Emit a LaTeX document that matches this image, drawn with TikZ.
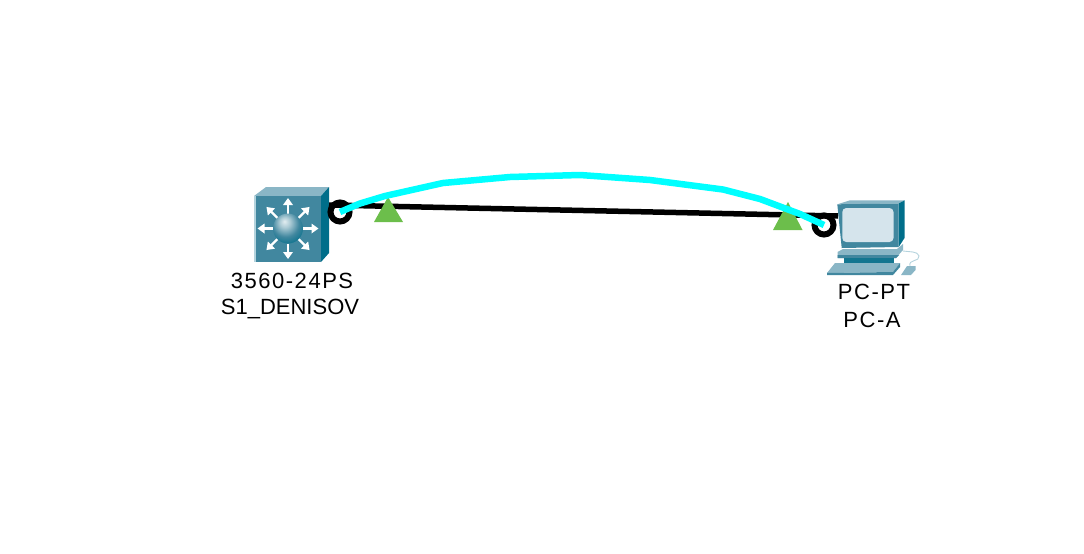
\documentclass[tikz,border=0pt]{standalone}
\usepackage{fontspec}
\setmainfont{Liberation Sans}
\newfontfamily\spaced[LetterSpace=7]{Liberation Sans}
\usetikzlibrary{arrows.meta}
\definecolor{fronta}{HTML}{41879F}
\definecolor{topa}{HTML}{8AB6C6}
\definecolor{sidea}{HTML}{006E8A}
\definecolor{screena}{HTML}{D5E4EC}
\definecolor{edgea}{HTML}{B4D3DD}
\definecolor{linka}{HTML}{00FFFF}
\definecolor{tria}{HTML}{6CBE4B}
\pgfdeclareradialshading{ballshade}{\pgfpoint{-6bp}{12bp}}{
  color(0bp)=(white!85!fronta);
  color(9bp)=(white!55!fronta);
  color(22bp)=(fronta);
  color(36bp)=(sidea);
  color(70bp)=(sidea!75!black)}
\tikzset{
  devlabel/.style={font=\fontsize{22}{26}\selectfont,align=center,text=black,inner sep=0pt},
  linkring/.style={circle,draw=black,line width=6pt,minimum size=19pt,inner sep=0pt},
  linktri/.style={fill=tria,draw=none},
  cable/.style={line width=5.5pt,draw=black},
  fibre/.style={line width=6.5pt,draw=linka,line join=round},
  rayarrow/.style={draw=white,line width=2.4pt,-{Triangle[length=7pt,width=9.5pt]}},
  holder/.style={inner sep=0pt,draw=none}
}
\begin{document}
\begin{tikzpicture}[x=1pt,y=-1pt]
\useasboundingbox (0,0) rectangle (1084,554);
% switch
\fill[topa] (254,196) -- (266,187) -- (329,187) -- (321,196) -- cycle;
\fill[sidea] (321,196) -- (329,187) -- (329,253) -- (321,262) -- cycle;
\fill[fronta] (254,196) rectangle (321,262);
\fill[edgea] (254,196) rectangle (256,262);
\foreach \a in {0,45,...,315}{
  \draw[rayarrow] (288,228.5) ++(\a:15) -- ++(\a:15.5);
}
\shade[shading=ballshade] (288,228.5) circle (15);
\node[holder,minimum width=67pt,minimum height=66pt] (sw) at (287.5,229) {};
\coordinate (swport) at (329,205);
% PC
\fill[topa] (837.3,204.3) -- (850,200.3) -- (904.5,200.3) -- (898.7,203.5) -- cycle;
\fill[sidea] (898.7,203.5) -- (904.5,200.3) -- (904.5,238) -- (898.7,247) -- cycle;
\fill[fronta] (837.3,204.3) -- (898.7,203.5) -- (898.7,247) -- (841.7,248) -- cycle;
\fill[screena,rounded corners=4pt] (842.3,208) rectangle (893.5,242);
\fill[topa] (837.5,252) -- (843,249) -- (897,249) -- (903,244) -- (903,250) -- (896,258) -- (837.5,258) -- cycle;
\fill[fronta] (837.5,255) -- (899,255) -- (896,258) -- (837.5,258) -- cycle;
\fill[sidea!70!fronta] (844,258) rectangle (894,263);
\fill[topa] (835,263) -- (900,263) -- (893,272) -- (827,273) -- cycle;
\fill[fronta] (827,273) -- (893,272) -- (900,263) -- (900,267) -- (893,275) -- (827,275) -- cycle;
\fill[topa] (907,266) -- (915.5,266) -- (915.5,270) -- (911,275) -- (901,275) -- cycle;
\draw[edgea,line width=0.9pt] (910,266) .. controls (908,259) and (920,262) .. (919,256) .. controls (918,251) and (909,252) .. (903,251);
\node[holder,minimum width=78pt,minimum height=76pt] (pc) at (870,238) {};
\coordinate (pcport) at (838,216);
% link
\draw[cable] (swport) -- (pcport);
\node[linkring] (r1) at (340,212) {};
\node[linkring] (r2) at (824,225) {};
\fill[linktri] (388,197) -- (403,222) -- (374,222) -- cycle;
\fill[linktri] (788,202) -- (802.5,230) -- (773,230) -- cycle;
\draw[fibre] (r1.center) -- (360,203.5) -- (385,196) -- (443,183) -- (510,177) -- (580,175) -- (650,180) -- (723,189.5) -- (760,199) -- (800,214) -- (r2.center);
% labels
\node[devlabel] (l1) at (292,281) {\spaced 3560-24PS};
\node[devlabel] (l2) at (290,309) {S1\_DENISOV};
\node[devlabel] (l3) at (874,292) {\spaced PC-PT};
\node[devlabel] (l4) at (872,320) {\spaced PC-A};
\end{tikzpicture}
\end{document}
